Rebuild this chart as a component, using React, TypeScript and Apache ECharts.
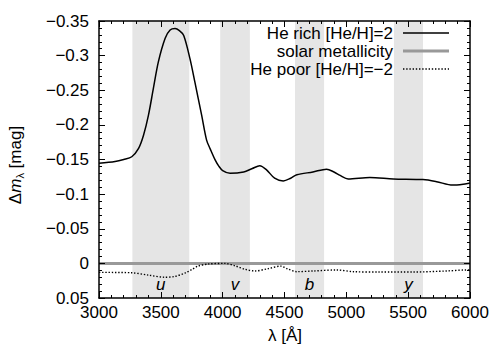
import React, { useEffect, useRef } from "react";
import * as echarts from "echarts";

const lambdaRich = [3000, 3130, 3200, 3265, 3320, 3360, 3400, 3440, 3480, 3535, 3575, 3615, 3650, 3685, 3735, 3775, 3830, 3870, 3900, 3940, 3970, 4000, 4060, 4170, 4240, 4300, 4355, 4420, 4490, 4550, 4600, 4730, 4840, 4900, 4950, 5015, 5190, 5380, 5620, 5730, 5860, 5970, 6000];
const heRich = [-0.1445, -0.147, -0.15, -0.154, -0.166, -0.185, -0.214, -0.253, -0.291, -0.325, -0.337, -0.339, -0.336, -0.329, -0.296, -0.262, -0.214, -0.178, -0.165, -0.149, -0.14, -0.134, -0.13, -0.132, -0.137, -0.141, -0.135, -0.123, -0.119, -0.123, -0.128, -0.132, -0.136, -0.132, -0.127, -0.122, -0.124, -0.122, -0.121, -0.118, -0.113, -0.115, -0.116];

const lambdaPoor = [3000, 3260, 3400, 3530, 3610, 3695, 3750, 3800, 3880, 4020, 4100, 4180, 4260, 4370, 4470, 4520, 4600, 4730, 4920, 5060, 5270, 5540, 5810, 5970, 6000];
const hePoor = [0.013, 0.0135, 0.017, 0.02, 0.019, 0.014, 0.009, 0.004, 0.001, 0.0, 0.0035, 0.0085, 0.011, 0.0075, 0.004, 0.0075, 0.012, 0.011, 0.0095, 0.012, 0.0125, 0.0125, 0.011, 0.0095, 0.0095];

const lambdaSolar = [3000, 6000];
const solar = [0, 0];

const bands = [[3270, 3730], [3980, 4220], [4585, 4820], [5385, 5620]];
const bandLabels = ["u", "v", "b", "y"];

const legendNames = ["He rich [He/H]=2", "solar metallicity", "He poor [He/H]=\u22122"];

const FONT = "'Liberation Sans', Arial, Helvetica, sans-serif";
const FS = 17;

const fmtY = (v: number) => {
  if (Math.abs(v) < 1e-9) return "0";
  return String(+v.toFixed(2)).replace("-", "\u2212");
};
const fmtX = (v: number) => String(Math.round(v));

export default function App() {
  const ref = useRef<HTMLDivElement>(null);
  useEffect(() => {
    if (!ref.current) return;
    const chart = echarts.init(ref.current, null, { renderer: "svg" });
    const axisCommon = {
      axisLine: { show: true, onZero: false, lineStyle: { color: "#000", width: 1.5 } },
      axisTick: { show: true, inside: true, length: 6, lineStyle: { color: "#000", width: 1 } },
      minorTick: { show: true, splitNumber: 5, length: 3, lineStyle: { color: "#000", width: 1 } },
      splitLine: { show: false },
      z: 10,
    };
    const legendY = [33, 51, 69];
    const legendStyles = [
      { stroke: "#000", lineWidth: 1.5 },
      { stroke: "#999", lineWidth: 3 },
      { stroke: "#000", lineWidth: 1.4, lineDash: [1.4, 1.8] },
    ];
    const graphics: any[] = [];
    legendNames.forEach((n, i) => {
      graphics.push({
        type: "text",
        x: 393,
        y: legendY[i],
        z: 100,
        style: { text: n, font: `${FS}px ${FONT}`, fill: "#000", textAlign: "right", verticalAlign: "middle" },
      });
      graphics.push({
        type: "line",
        z: 100,
        shape: { x1: 403, y1: legendY[i], x2: 449, y2: legendY[i] },
        style: legendStyles[i],
      });
    });
    graphics.push({
      type: "text",
      x: 285,
      y: 335,
      z: 100,
      style: { text: "\u03bb [\u00c5]", font: `${FS}px ${FONT}`, fill: "#000", textAlign: "center", verticalAlign: "middle" },
    });
    graphics.push({
      type: "text",
      x: 15,
      y: 165,
      z: 100,
      rotation: Math.PI / 2,
      style: {
        text: "{a|\u0394}{b|m}{c|\u03bb}{a| [mag]}",
        align: "center",
        verticalAlign: "middle",
        rich: {
          a: { fontSize: FS, fontFamily: FONT, lineHeight: 20, verticalAlign: "middle", fill: "#000" },
          b: { fontSize: FS, fontFamily: FONT, fontStyle: "italic", lineHeight: 20, verticalAlign: "middle", fill: "#000" },
          c: { fontSize: 11, fontFamily: FONT, lineHeight: 11, verticalAlign: "bottom", fill: "#000" },
        },
      },
    });

    chart.setOption({
      animation: false,
      backgroundColor: "#fff",
      grid: { left: 99, right: 30, top: 21, bottom: 52, containLabel: false },
      xAxis: [
        {
          ...axisCommon,
          type: "value",
          min: 3000,
          max: 6000,
          interval: 500,
          position: "bottom",
          axisLabel: { show: true, margin: 6, fontSize: FS, fontFamily: FONT, color: "#000", formatter: fmtX },
        },
        {
          ...axisCommon,
          type: "value",
          min: 3000,
          max: 6000,
          interval: 500,
          position: "top",
          axisLabel: { show: false },
        },
      ],
      yAxis: [
        {
          ...axisCommon,
          type: "value",
          min: -0.35,
          max: 0.05,
          interval: 0.05,
          inverse: true,
          position: "left",
          axisLabel: { show: true, margin: 10, fontSize: FS, fontFamily: FONT, color: "#000", formatter: fmtY },
        },
        {
          ...axisCommon,
          type: "value",
          min: -0.35,
          max: 0.05,
          interval: 0.05,
          inverse: true,
          position: "right",
          axisLabel: { show: false },
        },
      ],
      series: [
        {
          type: "line",
          name: "bands",
          data: [],
          z: 1,
          silent: true,
          markArea: {
            silent: true,
            itemStyle: { color: "#e5e5e5" },
            label: {
              show: true,
              position: "insideBottom",
              distance: 5,
              formatter: "{b}",
              fontSize: FS,
              fontStyle: "italic",
              fontFamily: FONT,
              color: "#000",
            },
            data: bands.map(([a, b], i) => [{ xAxis: a, name: bandLabels[i] }, { xAxis: b }]),
          },
        },
        {
          type: "line",
          name: legendNames[1],
          data: lambdaSolar.map((x, i) => [x, solar[i]]),
          showSymbol: false,
          lineStyle: { color: "#999", width: 3 },
          z: 3,
        },
        {
          type: "line",
          name: legendNames[2],
          data: lambdaPoor.map((x, i) => [x, hePoor[i]]),
          showSymbol: false,
          smooth: 0.3,
          lineStyle: { color: "#000", width: 1.4, type: [1.4, 1.8] },
          z: 4,
        },
        {
          type: "line",
          name: legendNames[0],
          data: lambdaRich.map((x, i) => [x, heRich[i]]),
          showSymbol: false,
          smooth: 0.3,
          lineStyle: { color: "#000", width: 1.5 },
          z: 5,
        },
      ],
      graphic: graphics,
    });
    return () => chart.dispose();
  }, []);
  return <div ref={ref} style={{ position: "fixed", left: 0, top: 0, width: 500, height: 350 }} />;
}
